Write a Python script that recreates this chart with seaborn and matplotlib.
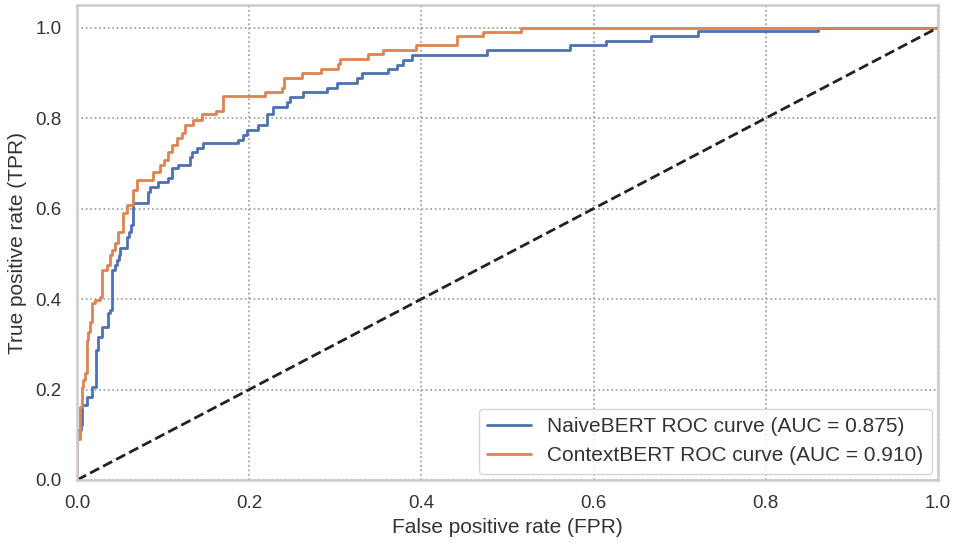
import numpy as np
import pandas as pd
import matplotlib
matplotlib.use("Agg")
import matplotlib.pyplot as plt
import seaborn as sns

# ROC operating points (FPR, TPR) for the two classifiers
naive_fpr = [0.0, 0.0, 0.0046, 0.0058, 0.0116, 0.0174, 0.022, 0.0244, 0.029, 0.036,
             0.0383, 0.0403, 0.0441, 0.0465, 0.0488, 0.05, 0.0577, 0.0604, 0.0627,
             0.0654, 0.0828, 0.0848, 0.0944, 0.1057, 0.11, 0.1173, 0.1312, 0.1332,
             0.139, 0.1463, 0.187, 0.1928, 0.197, 0.21, 0.2203, 0.2276, 0.2436,
             0.2474, 0.2625, 0.2904, 0.3016, 0.3249, 0.3307, 0.3612, 0.3713, 0.3786,
             0.3887, 0.4758, 0.5726, 0.6144, 0.6663, 0.7213, 0.8606, 1.0]
naive_tpr = [0.0, 0.11, 0.122, 0.166, 0.184, 0.206, 0.288, 0.316, 0.338, 0.369,
             0.376, 0.465, 0.476, 0.487, 0.498, 0.513, 0.538, 0.549, 0.564,
             0.613, 0.637, 0.648, 0.659, 0.668, 0.69, 0.697, 0.715, 0.726,
             0.735, 0.746, 0.752, 0.763, 0.774, 0.785, 0.808, 0.825, 0.836,
             0.847, 0.858, 0.867, 0.878, 0.889, 0.90, 0.909, 0.918, 0.929,
             0.940, 0.951, 0.961, 0.971, 0.982, 0.993, 1.0, 1.0]

context_fpr = [0.0, 0.0, 0.0035, 0.0055, 0.007, 0.0093, 0.0113, 0.0131, 0.0151, 0.0171,
               0.0209, 0.0267, 0.0287, 0.0345, 0.0383, 0.0407, 0.0441, 0.048, 0.0538,
               0.0577, 0.0654, 0.0693, 0.0886, 0.0964, 0.101, 0.106, 0.11, 0.116,
               0.122, 0.125, 0.135, 0.145, 0.162, 0.17, 0.218, 0.238, 0.24, 0.261,
               0.283, 0.303, 0.305, 0.338, 0.355, 0.394, 0.441, 0.472, 0.516, 1.0]
context_tpr = [0.0, 0.09, 0.162, 0.206, 0.221, 0.237, 0.31, 0.327, 0.35, 0.392,
               0.398, 0.405, 0.465, 0.476, 0.498, 0.509, 0.524, 0.549, 0.591,
               0.608, 0.642, 0.664, 0.681, 0.697, 0.708, 0.726, 0.741, 0.757,
               0.768, 0.785, 0.796, 0.808, 0.815, 0.848, 0.858, 0.867, 0.889, 0.90,
               0.909, 0.92, 0.931, 0.942, 0.951, 0.961, 0.982, 0.991, 1.0, 1.0]

model_names = ["NaiveBERT", "ContextBERT"]
auc_values = [0.875, 0.910]

sns.set_theme(style="whitegrid", rc={
    "grid.linestyle": ":",
    "grid.color": "#9a9a9a",
    "grid.linewidth": 1.2,
    "axes.edgecolor": "#cccccc",
    "axes.linewidth": 1.8,
})
plt.rcParams["font.family"] = ["Liberation Sans", "DejaVu Sans"]

palette = sns.color_palette("deep")

fig, ax = plt.subplots(figsize=(9.59, 5.47), dpi=100)
fig.subplots_adjust(left=77 / 959, right=938 / 959, top=1 - 5 / 547, bottom=1 - 480 / 547)

curves = [(naive_fpr, naive_tpr), (context_fpr, context_tpr)]
for i, ((fpr, tpr), name, auc) in enumerate(zip(curves, model_names, auc_values)):
    df = pd.DataFrame({"fpr": fpr, "tpr": tpr})
    sns.lineplot(data=df, x="fpr", y="tpr", ax=ax, color=palette[i], linewidth=2,
                 drawstyle="steps-post", sort=False, estimator=None,
                 label=f"{name} ROC curve (AUC = {auc:.3f})")

ax.plot([0, 1], [0, 1], color="#222222", linestyle="--", linewidth=2)

ax.set_xlim(0, 1)
ax.set_ylim(0, 1.05)
ax.set_xticks([0, 0.2, 0.4, 0.6, 0.8, 1.0])
ax.set_yticks([0, 0.2, 0.4, 0.6, 0.8, 1.0])
ax.tick_params(labelsize=13.5, colors="#333333", pad=5)
ax.set_xlabel("False positive rate (FPR)", fontsize=15, color="#333333", labelpad=4)
ax.set_ylabel("True positive rate (TPR)", fontsize=15, color="#333333", labelpad=6)

leg = ax.legend(loc="lower right", fontsize=15, frameon=True, handlelength=2.1,
                borderaxespad=0.3)
for t in leg.get_texts():
    t.set_color("#333333")

fig.savefig("out.png", dpi=100)
